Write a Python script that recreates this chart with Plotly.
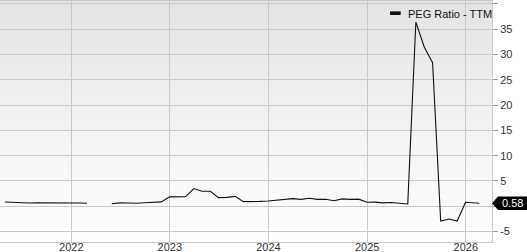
import base64, struct, zlib
import plotly.graph_objects as go

# ---- data ----
dates = [
    "2021-04-30", "2021-05-31", "2021-06-30", "2021-07-31", "2021-08-31", "2021-09-30",
    "2021-10-31", "2021-11-30", "2021-12-31", "2022-01-31", "2022-02-28", "2022-03-31",
    "2022-04-30", "2022-05-31", "2022-06-30", "2022-07-31", "2022-08-31", "2022-09-30",
    "2022-10-31", "2022-11-30", "2022-12-31", "2023-01-31", "2023-02-28", "2023-03-31",
    "2023-04-30", "2023-05-31", "2023-06-30", "2023-07-31", "2023-08-31", "2023-09-30",
    "2023-10-31", "2023-11-30", "2023-12-31", "2024-01-31", "2024-02-29", "2024-03-31",
    "2024-04-30", "2024-05-31", "2024-06-30", "2024-07-31", "2024-08-31", "2024-09-30",
    "2024-10-31", "2024-11-30", "2024-12-31", "2025-01-31", "2025-02-28", "2025-03-31",
    "2025-04-30", "2025-05-31", "2025-06-30", "2025-07-31", "2025-08-31", "2025-09-30",
    "2025-10-31", "2025-11-30", "2025-12-31", "2026-01-31", "2026-02-20",
]
peg_ttm = [
    0.83, 0.75, 0.60, 0.62, 0.68, 0.70,
    0.68, 0.66, 0.64, 0.64, 0.58, None,
    None, 0.50, 0.66, 0.62, 0.57, 0.68,
    0.80, 0.85, 1.85, 1.88, 1.90, 3.50,
    2.95, 2.95, 1.70, 1.75, 1.95, 0.90,
    0.88, 0.95, 1.02, 1.15, 1.35, 1.50,
    1.36, 1.56, 1.36, 1.36, 1.09, 1.45,
    1.36, 1.40, 0.78, 0.80, 0.66, 0.74,
    0.58, 0.45, 36.4, 31.5, 28.4, -2.93,
    -2.53, -2.93, 0.78, 0.60, 0.58,
]
series_name = "PEG Ratio - TTM"
year_ticks = ["2022-01-01", "2023-01-01", "2024-01-01", "2025-01-01", "2026-01-01"]
year_labels = ["2022", "2023", "2024", "2025", "2026"]
y_ticks = [-5, 0, 5, 10, 15, 20, 25, 30, 35, 40]
y_labels = ["-5", "", "5", "10", "15", "20", "25", "30", "35", "40"]


# ---- vertical gradient background as a tiny PNG ----
def gradient_png(h, top, bottom):
    raw = b""
    for i in range(h):
        t = i / (h - 1)
        c = bytes(int(round(top[k] + (bottom[k] - top[k]) * t)) for k in range(3))
        raw += b"\x00" + c
    def chunk(tag, data):
        return (struct.pack(">I", len(data)) + tag + data +
                struct.pack(">I", zlib.crc32(tag + data) & 0xFFFFFFFF))
    png = b"\x89PNG\r\n\x1a\n"
    png += chunk(b"IHDR", struct.pack(">IIBBBBB", 1, h, 8, 2, 0, 0, 0))
    png += chunk(b"IDAT", zlib.compress(raw))
    png += chunk(b"IEND", b"")
    return "data:image/png;base64," + base64.b64encode(png).decode()


bg = gradient_png(256, (228, 228, 228), (255, 255, 255))

FONT = "Liberation Sans, Arial, sans-serif"
GRID = "#c9c9c9"

fig = go.Figure()
fig.add_trace(go.Scatter(
    x=dates, y=peg_ttm, mode="lines", name=series_name,
    line=dict(color="#111111", width=1.1), connectgaps=False,
    showlegend=False, hoverinfo="x+y",
))

fig.update_layout(
    width=527, height=252,
    margin=dict(l=0, r=35, t=1, b=10),
    paper_bgcolor="white",
    plot_bgcolor="rgba(0,0,0,0)",
    font=dict(family=FONT, size=11, color="#333333"),
    showlegend=False,
    images=[dict(source=bg, xref="paper", yref="paper", x=0, y=1,
                 sizex=1, sizey=1, xanchor="left", yanchor="top",
                 sizing="stretch", layer="below")],
)

fig.update_xaxes(
    type="date", range=["2021-04-12", "2026-04-08"],
    tickvals=year_ticks, ticktext=year_labels,
    showgrid=True, gridcolor=GRID, gridwidth=1,
    showline=True, linecolor=GRID, linewidth=1, mirror=True,
    ticks="", tickfont=dict(size=11, color="#333333"),
    ticklabelstandoff=-5,
    zeroline=False, automargin=False,
)
fig.update_yaxes(
    side="right", range=[-7.08, 40.59],
    tickvals=y_ticks, ticktext=y_labels,
    showgrid=True, gridcolor=GRID, gridwidth=1,
    showline=True, linecolor=GRID, linewidth=1, mirror=True,
    ticks="outside", ticklen=5, tickcolor="#999999",
    tickfont=dict(size=11, color="#333333"),
    zeroline=False, automargin=False,
)

# legend-like label (top right)
fig.add_shape(type="rect", xref="paper", yref="paper",
              x0=0.7927, x1=0.8144, y0=0.942, y1=0.957,
              fillcolor="#111111", line=dict(width=0))
fig.add_annotation(xref="paper", yref="paper", x=0.825, y=0.946,
                   xanchor="left", yanchor="middle", showarrow=False,
                   text=series_name, font=dict(size=11, color="#111111"))

# last value marker on the right axis
last_val = peg_ttm[-1]
px = 1 / 492.0
half = 6.7 / 5.056
fig.add_shape(type="path", xref="paper", yref="y",
              path=(f"M 1.0,{last_val} L {1 + 6 * px},{last_val + half} "
                    f"L {1 + 40 * px},{last_val + half} L {1 + 40 * px},{last_val - half} "
                    f"L {1 + 6 * px},{last_val - half} Z"),
              fillcolor="black", line=dict(width=0), layer="above")
fig.add_annotation(xref="paper", yref="y", x=1 + 20.5 * px, y=last_val,
                   xanchor="center", yanchor="middle", showarrow=False,
                   text=f"{last_val:.2f}", font=dict(size=11, color="white"))

fig.write_html("out.html")
